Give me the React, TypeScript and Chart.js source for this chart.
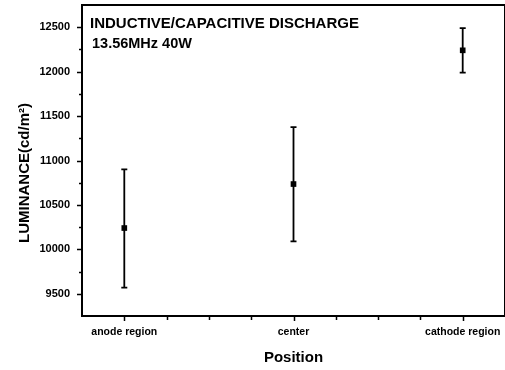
import React, { useEffect, useRef } from 'react';
import { Chart, registerables } from 'chart.js';

Chart.register(...registerables);

// ---- data ----
const categories = ['anode region', 'center', 'cathode region'];
const luminance = [10240, 10735, 12240];
const errorUpper = [10900, 11375, 12490];
const errorLower = [9570, 10090, 11990];
const annotationLines = ['INDUCTIVE/CAPACITIVE DISCHARGE', '13.56MHz 40W'];
const yTitle = 'LUMINANCE(cd/m\u00B2)';
const xTitle = 'Position';
const yMin = 9250;
const yMax = 12750;
const yStep = 250;
const yLabelStep = 500;
const xMin = -0.25;
const xMax = 2.25;
const xStep = 0.25;

const FONT = '"Liberation Sans", Arial, Helvetica, sans-serif';

const decorPlugin = {
  id: 'decor',
  afterDatasetsDraw(chart: any) {
    const ctx = chart.ctx;
    const xs = chart.scales.x;
    const ys = chart.scales.y;
    ctx.save();
    ctx.strokeStyle = '#000';
    ctx.lineWidth = 1.8;
    for (let i = 0; i < luminance.length; i++) {
      const x = xs.getPixelForValue(i);
      const yh = ys.getPixelForValue(errorUpper[i]);
      const yl = ys.getPixelForValue(errorLower[i]);
      ctx.beginPath();
      ctx.moveTo(x, yh);
      ctx.lineTo(x, yl);
      ctx.moveTo(x - 3, yh);
      ctx.lineTo(x + 3, yh);
      ctx.moveTo(x - 3, yl);
      ctx.lineTo(x + 3, yl);
      ctx.stroke();
    }
    ctx.restore();
  },
  afterDraw(chart: any) {
    const ctx = chart.ctx;
    const { left, right, top, bottom } = chart.chartArea;
    const xs = chart.scales.x;
    const ys = chart.scales.y;
    ctx.save();
    ctx.strokeStyle = '#000';
    ctx.fillStyle = '#000';
    // frame
    ctx.lineWidth = 2;
    ctx.strokeRect(left, top, right - left, bottom - top);
    // y ticks
    ctx.lineWidth = 1.5;
    ctx.beginPath();
    for (let v = yMin + yStep; v < yMax; v += yStep) {
      const y = Math.round(ys.getPixelForValue(v)) + 0.5;
      const len = v % yLabelStep === 0 ? 5 : 3;
      ctx.moveTo(left - len, y);
      ctx.lineTo(left, y);
    }
    // x ticks
    for (let v = xMin + xStep; v < xMax - 1e-9; v += xStep) {
      const x = Math.round(xs.getPixelForValue(v)) + 0.5;
      const len = Math.abs(v - Math.round(v)) < 1e-9 ? 5 : 4;
      ctx.moveTo(x, bottom);
      ctx.lineTo(x, bottom + len);
    }
    ctx.stroke();
    // annotation text
    ctx.font = 'bold 15px ' + FONT;
    ctx.textAlign = 'left';
    ctx.textBaseline = 'alphabetic';
    ctx.fillText(annotationLines[0], 90, 28);
    ctx.font = 'bold 14.5px ' + FONT;
    ctx.fillText(annotationLines[1], 92, 48);
    // y title
    ctx.translate(29, 173);
    ctx.rotate(-Math.PI / 2);
    ctx.font = 'bold 15px ' + FONT;
    ctx.textAlign = 'center';
    ctx.fillText(yTitle, 0, 0);
    ctx.restore();
  },
};

export default function App() {
  const canvasRef = useRef<HTMLCanvasElement | null>(null);

  useEffect(() => {
    const canvas = canvasRef.current;
    if (!canvas) return;
    const chart = new Chart(canvas, {
      type: 'scatter',
      data: {
        datasets: [
          {
            label: 'Luminance',
            data: luminance.map((v, i) => ({ x: i, y: v })),
            pointStyle: 'rect',
            pointRadius: 4,
            backgroundColor: '#000',
            borderColor: '#000',
            borderWidth: 0,
          },
        ],
      },
      options: {
        responsive: false,
        animation: false,
        devicePixelRatio: 1,
        layout: { autoPadding: false, padding: { top: 5, right: 0, left: 0, bottom: 0 } },
        plugins: {
          legend: { display: false },
          tooltip: { enabled: false },
        },
        scales: {
          x: {
            type: 'linear',
            min: xMin,
            max: xMax,
            afterFit: (s: any) => {
              s.height = 54;
              s.paddingLeft = 0;
              s.paddingRight = 0;
            },
            grid: { display: false, drawTicks: false },
            border: { display: false },
            ticks: {
              stepSize: xStep,
              autoSkip: false,
              maxRotation: 0,
              minRotation: 0,
              padding: 10,
              color: '#000',
              font: { family: FONT, size: 10.5, weight: 'bold' },
              callback: (v: any) => {
                const n = Number(v);
                return Math.abs(n - Math.round(n)) < 1e-9 && categories[Math.round(n)] !== undefined
                  ? categories[Math.round(n)]
                  : '';
              },
            },
            title: {
              display: true,
              text: xTitle,
              color: '#000',
              font: { family: FONT, size: 15, weight: 'bold' },
              padding: { top: 0, bottom: 3 },
            },
          },
          y: {
            type: 'linear',
            min: yMin,
            max: yMax,
            afterFit: (s: any) => {
              s.width = 82;
              s.paddingTop = 0;
              s.paddingBottom = 0;
            },
            grid: { display: false, drawTicks: false },
            border: { display: false },
            ticks: {
              stepSize: yStep,
              autoSkip: false,
              padding: 12,
              color: '#000',
              font: { family: FONT, size: 11, weight: 'bold' },
              callback: (v: any) => (Number(v) % yLabelStep === 0 ? String(v) : ''),
            },
          },
        },
      },
      plugins: [decorPlugin],
    });
    return () => chart.destroy();
  }, []);

  return (
    <div style={{ position: 'fixed', left: 0, top: 0, width: 505, height: 370, background: '#fff' }}>
      <canvas ref={canvasRef} width={505} height={370} style={{ display: 'block' }} />
    </div>
  );
}
